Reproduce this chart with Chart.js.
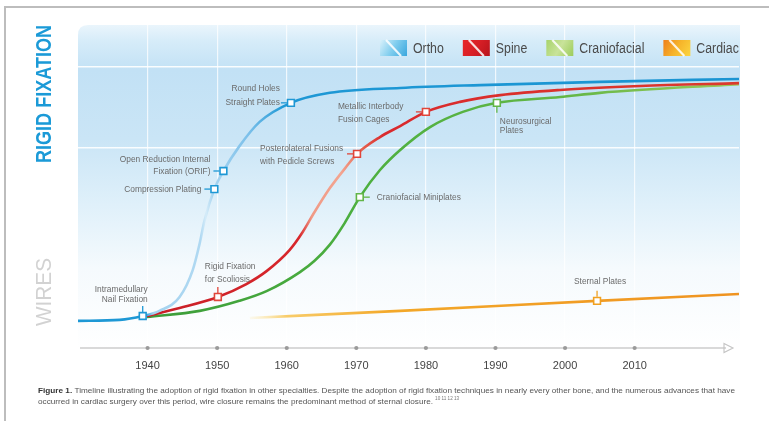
<!DOCTYPE html>
<html>
<head>
<meta charset="utf-8">
<script src="https://cdn.jsdelivr.net/npm/chart.js@4.4.1/dist/chart.umd.min.js"></script>
<style>
  html, body { margin: 0; padding: 0; background: #fff; overflow: hidden; }
  #wrap { width: 769px; height: 421px; position: relative; }
</style>
</head>
<body>
<div id="wrap"><canvas id="c" width="769" height="421"></canvas></div>
<script>
// ---- Data -------------------------------------------------------------
const seriesNames = ['Ortho', 'Spine', 'Craniofacial', 'Cardiac'];
const tickYears = [1940, 1950, 1960, 1970, 1980, 1990, 2000, 2010];
const gridLevels = [62, 87];

const orthoYears  = [1930, 1936, 1939.3, 1941.7, 1944.6, 1946.5, 1947.5, 1948.2, 1949.6, 1950.9, 1953.2, 1956.1, 1960.6, 1966.2, 1976.3, 1987.8, 2005.0, 2025];
const orthoValues = [8.4, 8.7, 9.9, 11.5, 15.8, 24.2, 32.5, 39.6, 49.2, 54.8, 62.5, 70.0, 75.9, 79.0, 80.5, 81.4, 82.4, 83.3];
const orthoMilestones = [null, null, 'Intramedullary\nNail Fixation', null, null, null, null, null,
  'Compression Plating', 'Open Reduction Internal\nFixation (ORIF)', null, null,
  'Round Holes\nStraight Plates', null, null, null, null, null];

const spineYears  = [1939.9, 1944.6, 1950.1, 1954.2, 1957.1, 1960.4, 1962.3, 1964.0, 1966.2, 1968.4, 1970.1, 1973.4, 1976.3, 1980.0, 1984.9, 1990.7, 1999.3, 2010.8, 2025];
const spineValues = [9.9, 12.4, 15.8, 19.8, 23.8, 30.3, 35.9, 42.1, 49.5, 55.7, 60.1, 65.3, 68.7, 73.1, 76.2, 78.3, 79.9, 81.1, 82.0];
const spineMilestones = [null, null, 'Rigid Fixation\nfor Scoliosis', null, null, null, null, null, null, null,
  'Posterolateral Fusions\nwith Pedicle Screws', null, null, 'Metallic Interbody\nFusion Cages', null, null, null, null, null];

const cranioYears  = [1939.9, 1947.5, 1953.2, 1957.1, 1961.9, 1964.0, 1966.2, 1968.3, 1970.5, 1973.4, 1976.3, 1980.6, 1985.3, 1990.2, 1999.3, 2005.0, 2025];
const cranioValues = [9.6, 11.5, 14.6, 17.6, 23.5, 27.0, 32.0, 38.6, 46.7, 55.1, 61.3, 68.4, 73.1, 75.9, 77.7, 79.0, 81.7];
const cranioMilestones = [null, null, null, null, null, null, null, null, 'Craniofacial Miniplates', null, null, null, null,
  'Neurosurgical\nPlates', null, null, null];

const cardiacYears  = [1954.7, 1976.3, 2004.6, 2025];
const cardiacValues = [9.3, 11.5, 14.6, 16.7];
const cardiacMilestones = [null, null, 'Sternal Plates', null];

const captionBold = 'Figure 1.';
const captionLine1 = ' Timeline illustrating the adoption of rigid fixation in other specialties. Despite the adoption of rigid fixation techniques in nearly every other bone, and the numerous advances that have';
const captionLine2 = 'occurred in cardiac surgery over this period, wire closure remains the predominant method of sternal closure.';
const captionRefs = '10 11 12 13';

// ---- Styling ----------------------------------------------------------
const FONT = '"Liberation Sans", Arial, sans-serif';
const SX = 0.8; // horizontal squeeze for the condensed lettering

const markerColors = { Ortho: '#1e98d5', Spine: '#e0463a', Craniofacial: '#62b548', Cardiac: '#f0a020' };

// stroke colour stops along the time axis (year, colour)
const strokeStops = {
  Ortho: [[1930, '#1e98d5'], [1939.6, '#1e98d5'], [1940.8, '#a3d2ef'], [1947.6, '#b0d9f2'],
          [1948.4, '#d6ecf9'], [1949.4, '#a9d5f0'], [1954.5, '#7cc0ea'], [1959.5, '#1e98d5'], [2025, '#1a94d2']],
  Spine: [[1939.9, '#c81f27'], [1961.8, '#d8262b'], [1963.6, '#f09a86'], [1967.8, '#f3a591'],
          [1971.0, '#e4604d'], [1974.0, '#d9292d'], [2025, '#dc3a2c']],
  Craniofacial: [[1939.9, '#3b9c3a'], [1970, '#4caf3f'], [2000, '#63b646'], [2025, '#9ccb5c']],
  Cardiac: [[1954.7, 'rgba(253,228,150,0.15)'], [1960, '#f8cc6a'], [1975, '#f3a829'], [2025, '#ef9320']]
};

// callout placement for each milestone label
const calloutLayout = {
  'Intramedullary\nNail Fixation':          { stem: 'up',    align: 'right',  dx: 5,   dy: [-27, -17] },
  'Compression Plating':                    { stem: 'left',  align: 'right',  dx: -13, dy: [0] },
  'Open Reduction Internal\nFixation (ORIF)': { stem: 'left', align: 'right', dx: -13, dy: [-12, 0] },
  'Round Holes\nStraight Plates':           { stem: 'left',  align: 'right',  dx: -11, dy: [-14, 0] },
  'Rigid Fixation\nfor Scoliosis':          { stem: 'up',    align: 'left',   dx: -13, dy: [-31, -18] },
  'Posterolateral Fusions\nwith Pedicle Screws': { stem: 'left', align: 'left', dx: -97, dy: [-6, 7] },
  'Metallic Interbody\nFusion Cages':       { stem: 'left',  align: 'left',   dx: -88, dy: [-6, 7] },
  'Craniofacial Miniplates':                { stem: 'right', align: 'left',   dx: 17,  dy: [0] },
  'Neurosurgical\nPlates':                  { stem: 'down',  align: 'left',   dx: 3,   dy: [19, 28] },
  'Sternal Plates':                         { stem: 'up',    align: 'center', dx: 3,   dy: [-19] }
};

const legendIcons = {
  Ortho:        ['#d9f1fb', '#7fcdee', '#3aa7de'],
  Spine:        ['#e8262a', '#d71f26', '#b8141c'],
  Craniofacial: ['#a7d36b', '#c9e39a', '#9ccc5a'],
  Cardiac:      ['#ee7f1c', '#f6b42a', '#fbd540']
};

// ---- Helpers ----------------------------------------------------------
function points(xs, ys) { return xs.map((x, i) => ({ x: x, y: ys[i] })); }

function strokeFor(name) {
  return (ctx) => {
    const chart = ctx.chart, ca = chart.chartArea, stops = strokeStops[name];
    if (!ca) return stops[stops.length - 1][1];
    const xs = chart.scales.x;
    const g = chart.ctx.createLinearGradient(ca.left, 0, ca.right, 0);
    stops.forEach(([yr, c]) => {
      const t = (xs.getPixelForValue(yr) - ca.left) / (ca.right - ca.left);
      g.addColorStop(Math.min(1, Math.max(0, t)), c);
    });
    return g;
  };
}

function condensed(ctx, text, x, y, o) {
  ctx.save();
  ctx.font = (o.weight || 'normal') + ' ' + o.size + 'px ' + FONT;
  const sx = o.sx || SX;
  const w = ctx.measureText(text).width * sx;
  const x0 = o.align === 'right' ? x - w : o.align === 'center' ? x - w / 2 : x;
  ctx.translate(x0, y);
  ctx.scale(sx, 1);
  ctx.textAlign = 'left';
  ctx.textBaseline = o.baseline || 'middle';
  ctx.fillStyle = o.color;
  ctx.fillText(text, 0, 0);
  ctx.restore();
  return w;
}

function lineDataset(name, xs, ys, milestones) {
  return {
    label: name,
    data: points(xs, ys),
    milestones: milestones,
    borderColor: strokeFor(name),
    borderWidth: 2.6,
    cubicInterpolationMode: 'monotone',
    fill: false,
    pointStyle: 'rect',
    pointRadius: (c) => milestones[c.dataIndex] ? 4.8 : 0,
    pointHoverRadius: 0,
    pointBackgroundColor: '#ffffff',
    pointBorderColor: markerColors[name],
    pointBorderWidth: 1.6
  };
}

// ---- Decorations ------------------------------------------------------
const decor = {
  id: 'decor',
  beforeDraw(chart) {
    const ctx = chart.ctx, ca = chart.chartArea;
    ctx.save();
    ctx.fillStyle = '#fff';
    ctx.fillRect(0, 0, chart.width, chart.height);

    // panel frame
    ctx.strokeStyle = '#bdbdbd';
    ctx.lineWidth = 2;
    ctx.beginPath();
    ctx.moveTo(5, 421); ctx.lineTo(5, 7); ctx.lineTo(769, 7);
    ctx.stroke();

    // sky-blue backdrop of the plot
    const left = ca.left, right = ca.right + 1, top = ca.top, bottom = ca.bottom + 2;
    const g = ctx.createLinearGradient(0, top, 0, bottom);
    g.addColorStop(0.00, '#eaf5fc');
    g.addColorStop(0.05, '#d6ecf9');
    g.addColorStop(0.14, '#c2e1f5');
    g.addColorStop(0.35, '#cae5f6');
    g.addColorStop(0.55, '#dff0fa');
    g.addColorStop(0.75, '#f5fafd');
    g.addColorStop(1.00, '#ffffff');
    ctx.fillStyle = g;
    ctx.beginPath();
    const r = 10;
    ctx.moveTo(left, bottom);
    ctx.lineTo(left, top + r);
    ctx.quadraticCurveTo(left, top, left + r, top);
    ctx.lineTo(right, top);
    ctx.lineTo(right, bottom);
    ctx.closePath();
    ctx.fill();
    ctx.restore();
  },
  afterDatasetsDraw(chart) {
    const ctx = chart.ctx, ca = chart.chartArea, xs = chart.scales.x;

    // callouts for milestones
    chart.data.datasets.forEach((ds, di) => {
      const meta = chart.getDatasetMeta(di);
      ds.milestones.forEach((label, i) => {
        if (!label) return;
        const pt = meta.data[i];
        const lay = calloutLayout[label];
        const col = markerColors[ds.label];
        ctx.save();
        ctx.strokeStyle = col;
        ctx.lineWidth = 1.3;
        ctx.beginPath();
        if (lay.stem === 'up')    { ctx.moveTo(pt.x, pt.y - 4); ctx.lineTo(pt.x, pt.y - 10); }
        if (lay.stem === 'down')  { ctx.moveTo(pt.x, pt.y + 4); ctx.lineTo(pt.x, pt.y + 10); }
        if (lay.stem === 'left')  { ctx.moveTo(pt.x - 4, pt.y); ctx.lineTo(pt.x - 10, pt.y); }
        if (lay.stem === 'right') { ctx.moveTo(pt.x + 4, pt.y); ctx.lineTo(pt.x + 10, pt.y); }
        ctx.stroke();
        ctx.restore();
        label.split('\n').forEach((line, k) => {
          condensed(ctx, line, pt.x + lay.dx, pt.y + lay.dy[k], { size: 9.5, color: '#6b6b6b', align: lay.align, sx: 0.88 });
        });
      });
    });

    // time axis with tick dots and an open arrowhead
    const ay = ca.bottom;
    ctx.save();
    ctx.strokeStyle = '#cccccc';
    ctx.lineWidth = 1.4;
    ctx.beginPath();
    ctx.moveTo(ca.left + 2, ay); ctx.lineTo(726, ay);
    ctx.stroke();
    ctx.beginPath();
    ctx.moveTo(724, ay - 4.5); ctx.lineTo(733, ay); ctx.lineTo(724, ay + 4.5); ctx.closePath();
    ctx.strokeStyle = '#c4c4c4';
    ctx.lineWidth = 1.1;
    ctx.stroke();
    ctx.fillStyle = '#9a9a9a';
    tickYears.forEach((yr) => {
      ctx.beginPath();
      ctx.arc(xs.getPixelForValue(yr), ay, 2.1, 0, Math.PI * 2);
      ctx.fill();
    });
    ctx.restore();

    // legend
    ctx.save();
    ctx.beginPath();
    ctx.rect(0, 0, 741, 421);
    ctx.clip();
    let lx = 380;
    const ly = 48;
    seriesNames.forEach((name) => {
      const [c0, c1, c2] = legendIcons[name];
      const gi = ctx.createLinearGradient(lx, ly - 8, lx + 27, ly + 8);
      gi.addColorStop(0, c0); gi.addColorStop(0.5, c1); gi.addColorStop(1, c2);
      ctx.fillStyle = gi;
      ctx.fillRect(lx, ly - 8, 27, 16);
      ctx.strokeStyle = 'rgba(255,255,255,0.85)';
      ctx.lineWidth = 2.2;
      ctx.beginPath();
      ctx.moveTo(lx + 6, ly - 8); ctx.lineTo(lx + 21, ly + 8);
      ctx.stroke();
      const w = condensed(ctx, name, lx + 33, ly + 1, { size: 14, color: '#4a4a4a', sx: 0.88 });
      lx += 33 + w + 19;
    });
    ctx.restore();

    // side captions
    const vertical = (text, cx, yBottom, length, o) => {
      ctx.save();
      ctx.font = o.weight + ' ' + o.size + 'px ' + FONT;
      const w = ctx.measureText(text).width;
      ctx.translate(cx, yBottom);
      ctx.rotate(-Math.PI / 2);
      ctx.scale(length / w, 1);
      ctx.textAlign = 'left';
      ctx.textBaseline = 'middle';
      ctx.fillStyle = o.color;
      ctx.fillText(text, 0, 0);
      ctx.restore();
    };
    vertical('RIGID FIXATION', 45, 163, 138, { weight: 'bold', size: 22, color: '#1b9ad7' });
    vertical('WIRES', 45, 326, 68, { weight: 'normal', size: 22, color: '#d2d2d2' });

    // figure caption
    ctx.save();
    ctx.font = 'bold 8px ' + FONT;
    const wb = ctx.measureText(captionBold).width;
    ctx.font = '8px ' + FONT;
    const w1 = ctx.measureText(captionLine1).width;
    const sx = 697 / (wb + w1);
    condensed(ctx, captionBold, 38, 391, { size: 8, weight: 'bold', color: '#333', sx: sx });
    condensed(ctx, captionLine1, 38 + wb * sx, 391, { size: 8, color: '#555', sx: sx });
    const w2 = condensed(ctx, captionLine2, 38, 402, { size: 8, color: '#555', sx: sx });
    condensed(ctx, captionRefs, 38 + w2 + 2, 399, { size: 4.5, color: '#777', sx: sx });
    ctx.restore();
  }
};

// ---- Chart ------------------------------------------------------------
new Chart(document.getElementById('c'), {
  type: 'line',
  data: {
    datasets: [
      lineDataset('Ortho', orthoYears, orthoValues, orthoMilestones),
      lineDataset('Spine', spineYears, spineValues, spineMilestones),
      lineDataset('Craniofacial', cranioYears, cranioValues, cranioMilestones),
      lineDataset('Cardiac', cardiacYears, cardiacValues, cardiacMilestones)
    ]
  },
  options: {
    responsive: false,
    animation: false,
    devicePixelRatio: 1,
    layout: { padding: { left: 78, right: 30, top: 25, bottom: 0 } },
    plugins: { legend: { display: false }, tooltip: { enabled: false } },
    scales: {
      x: {
        type: 'linear',
        min: 1930,
        max: 2025,
        afterBuildTicks: (s) => { s.ticks = tickYears.map((v) => ({ value: v })); },
        afterFit: (s) => { s.height = 73; },
        border: { display: false },
        grid: { color: 'rgba(255,255,255,0.75)', lineWidth: 1.2, drawTicks: false },
        ticks: {
          autoSkip: false, maxRotation: 0, padding: 11,
          color: '#444444', font: { family: FONT, size: 11 },
          callback: (v) => String(v)
        }
      },
      y: {
        min: 0,
        max: 100,
        afterBuildTicks: (s) => { s.ticks = gridLevels.map((v) => ({ value: v })); },
        afterFit: (s) => { s.width = 0; },
        border: { display: false },
        grid: { color: 'rgba(255,255,255,0.9)', lineWidth: 1.6, drawTicks: false },
        ticks: { display: false }
      }
    }
  },
  plugins: [decor]
});
</script>
</body>
</html>
